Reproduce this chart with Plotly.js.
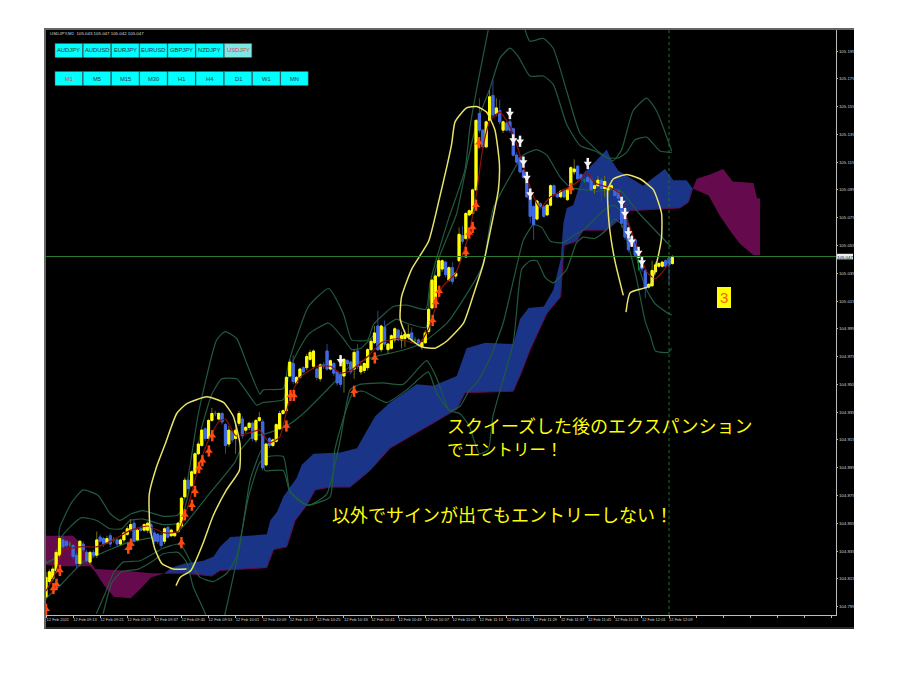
<!DOCTYPE html>
<html><head><meta charset="utf-8">
<script src="https://cdn.plot.ly/plotly-3.0.1.min.js"></script>
<style>html,body{margin:0;padding:0;background:#fff}</style></head>
<body><div id="chart" style="width:900px;height:674px"></div>
<script>
const barOpen=[104.802,104.813,104.815,104.821,104.832,104.843,104.842,104.840,104.839,104.832,
104.826,104.840,104.834,104.827,104.834,104.832,104.845,104.844,104.841,104.846,
104.843,104.843,104.840,104.843,104.847,104.850,104.855,104.843,104.851,104.850,
104.850,104.854,104.848,104.847,104.846,104.842,104.852,104.846,104.846,104.849,
104.853,104.874,104.886,104.882,104.891,104.905,104.911,104.923,104.916,104.929,
104.934,104.930,104.934,104.926,104.912,104.921,104.916,104.927,104.930,104.922,
104.924,104.927,104.915,104.929,104.928,104.897,104.916,104.911,104.914,104.923,
104.934,104.936,104.961,104.970,104.956,104.960,104.967,104.967,104.973,104.968,
104.966,104.959,104.969,104.979,104.966,104.970,104.964,104.962,104.961,104.972,
104.971,104.966,104.979,104.964,104.965,104.967,104.980,104.985,104.997,104.980,
104.996,104.980,104.981,104.987,104.994,104.987,104.988,104.989,104.992,104.987,
104.987,104.982,104.985,104.993,105.010,105.016,105.033,105.038,105.043,105.030,
105.039,105.033,105.044,105.062,105.060,105.077,105.078,105.095,105.150,105.138,
105.126,105.145,105.163,105.150,105.152,105.138,105.143,105.144,105.139,105.120,
105.118,105.109,105.104,105.090,105.083,105.074,105.085,105.083,105.077,105.084,
105.098,105.092,105.090,105.095,105.088,105.097,105.108,105.112,105.106,105.102,
105.104,105.103,105.096,105.098,105.102,105.096,105.095,105.096,105.095,105.094,
105.090,105.076,105.066,105.061,105.059,105.043,105.044,105.037,105.025,105.026,
105.036,105.040,105.040,105.044,105.046,105.042];
const barHigh=[104.820,104.822,104.824,104.836,104.846,104.845,104.843,104.842,104.840,104.834,
104.843,104.842,104.836,104.835,104.836,104.849,104.847,104.845,104.846,104.848,
104.845,104.844,104.844,104.849,104.853,104.858,104.857,104.851,104.853,104.855,
104.856,104.856,104.850,104.848,104.848,104.852,104.853,104.851,104.849,104.856,
104.874,104.888,104.888,104.893,104.906,104.913,104.923,104.924,104.930,104.938,
104.936,104.935,104.935,104.927,104.925,104.922,104.927,104.936,104.932,104.925,
104.928,104.928,104.930,104.935,104.930,104.913,104.917,104.916,104.927,104.936,
104.937,104.961,104.973,104.976,104.961,104.967,104.968,104.977,104.980,104.980,
104.967,104.970,104.971,104.984,104.973,104.971,104.965,104.964,104.974,104.973,
104.972,104.980,104.984,104.970,104.971,104.981,104.988,104.997,105.008,104.998,
105.001,104.985,104.991,104.996,104.995,104.993,104.994,104.998,104.996,104.989,
104.988,104.987,104.994,105.010,105.031,105.034,105.046,105.045,105.044,105.040,
105.043,105.036,105.068,105.069,105.079,105.081,105.096,105.146,105.161,105.139,
105.145,105.167,105.174,105.161,105.160,105.145,105.144,105.146,105.140,105.122,
105.119,105.110,105.105,105.091,105.084,105.088,105.086,105.084,105.085,105.099,
105.099,105.093,105.095,105.096,105.096,105.112,105.117,105.113,105.107,105.103,
105.105,105.105,105.099,105.105,105.104,105.105,105.098,105.099,105.096,105.095,
105.091,105.077,105.067,105.062,105.060,105.048,105.045,105.038,105.028,105.044,
105.043,105.043,105.044,105.045,105.047,105.048];
const barLow=[104.800,104.811,104.813,104.819,104.830,104.836,104.837,104.838,104.829,104.822,
104.824,104.834,104.826,104.825,104.830,104.830,104.841,104.838,104.840,104.838,
104.841,104.838,104.839,104.841,104.846,104.849,104.841,104.842,104.849,104.849,
104.848,104.846,104.840,104.840,104.837,104.840,104.844,104.845,104.845,104.848,
104.852,104.873,104.878,104.881,104.890,104.904,104.910,104.914,104.915,104.928,
104.932,104.929,104.926,104.905,104.910,104.913,104.905,104.925,104.916,104.920,
104.922,104.914,104.913,104.928,104.893,104.896,104.909,104.910,104.913,104.922,
104.933,104.935,104.960,104.955,104.955,104.959,104.963,104.965,104.972,104.966,
104.958,104.957,104.966,104.965,104.965,104.961,104.954,104.953,104.949,104.968,
104.962,104.959,104.966,104.962,104.963,104.965,104.979,104.984,104.979,104.978,
104.982,104.977,104.980,104.985,104.986,104.981,104.982,104.987,104.985,104.985,
104.982,104.980,104.984,104.991,105.009,105.013,105.032,105.036,105.032,105.029,
105.027,105.031,105.043,105.056,105.059,105.076,105.077,105.094,105.136,105.124,
105.125,105.144,105.147,105.148,105.142,105.136,105.137,105.136,105.119,105.114,
105.107,105.103,105.089,105.071,105.059,105.073,105.081,105.075,105.076,105.083,
105.090,105.089,105.089,105.089,105.087,105.096,105.106,105.102,105.102,105.100,
105.100,105.094,105.092,105.097,105.086,105.090,105.090,105.095,105.090,105.088,
105.068,105.059,105.050,105.054,105.047,105.037,105.036,105.017,105.024,105.025,
105.034,105.039,105.039,105.039,105.026,105.041];
const barClose=[104.816,104.820,104.822,104.834,104.844,104.838,104.839,104.840,104.831,104.826,
104.842,104.836,104.828,104.834,104.832,104.843,104.842,104.840,104.844,104.840,
104.843,104.840,104.843,104.848,104.851,104.854,104.842,104.850,104.850,104.854,
104.855,104.848,104.842,104.842,104.839,104.851,104.845,104.850,104.848,104.855,
104.873,104.886,104.880,104.892,104.905,104.912,104.922,104.916,104.929,104.934,
104.934,104.934,104.928,104.911,104.922,104.915,104.922,104.934,104.918,104.924,
104.927,104.916,104.929,104.931,104.895,104.912,104.911,104.915,104.926,104.934,
104.936,104.960,104.971,104.957,104.960,104.966,104.964,104.975,104.978,104.979,
104.960,104.969,104.968,104.966,104.972,104.963,104.956,104.955,104.973,104.970,
104.964,104.978,104.968,104.968,104.970,104.980,104.986,104.992,104.980,104.997,
104.984,104.984,104.990,104.995,104.987,104.990,104.991,104.991,104.987,104.987,
104.984,104.985,104.992,105.009,105.030,105.033,105.044,105.044,105.034,105.039,
105.029,105.035,105.063,105.058,105.078,105.080,105.095,105.145,105.138,105.126,
105.144,105.162,105.149,105.154,105.144,105.144,105.138,105.138,105.120,105.115,
105.108,105.104,105.090,105.076,105.070,105.087,105.083,105.076,105.084,105.098,
105.092,105.090,105.094,105.090,105.095,105.111,105.110,105.103,105.103,105.102,
105.101,105.095,105.098,105.102,105.096,105.101,105.097,105.098,105.091,105.089,
105.071,105.061,105.052,105.055,105.048,105.043,105.038,105.024,105.027,105.037,
105.041,105.042,105.043,105.040,105.041,105.047];

const xTickBars=[0,8,16,24,32,40,48,56,64,72,80,88,96,104,112,120,128,136,144,152,160,168,176,184];
const xTickLabels=["12 Feb 2021","12 Feb 09:13","12 Feb 09:21","12 Feb 09:29","12 Feb 09:37","12 Feb 09:45","12 Feb 09:53","12 Feb 10:01","12 Feb 10:09","12 Feb 10:17","12 Feb 10:25","12 Feb 10:33","12 Feb 10:41","12 Feb 10:49","12 Feb 10:57","12 Feb 11:05","12 Feb 11:13","12 Feb 11:21","12 Feb 11:29","12 Feb 11:37","12 Feb 11:45","12 Feb 11:53","12 Feb 12:01","12 Feb 12:09"];
const yTicks=[104.795,104.815,104.835,104.855,104.875,104.895,104.915,104.935,104.955,104.975,104.995,105.015,105.035,105.055,105.075,105.095,105.115,105.135,105.155,105.175,105.195];
const symbolButtons=["AUDJPY","AUDUSD","EURJPY","EURUSD","GBPJPY","NZDJPY","USDJPY"];
const periodButtons=["M1","M5","M15","M30","H1","H4","D1","W1","MN"];

const blueTopBar=[35,37,41,46.5,49.5,51.4,54.4,65.2,66.2,68.2,70.1,74.1,75.5,79,86.9,91.8,97.2,101.6,109.5,114.4,121.3,124.2,129.7,138,140,142.5,147,149.8,152,152.8,153.8,155.7,158.7,162.1,165.6,167.1,169,172.5,176.4,178.4,182.8,185.3,189.2,191];
const blueTopPrice=[104.819,104.823,104.826,104.828,104.831,104.838,104.845,104.847,104.857,104.863,104.874,104.888,104.897,104.905,104.906,104.909,104.932,104.942,104.955,104.954,104.961,104.981,104.985,104.984,105.002,105.010,105.011,105.023,105.045,105.071,105.082,105.084,105.107,105.115,105.124,105.116,105.109,105.104,105.098,105.102,105.110,105.102,105.102,105.096];
const blueBottomBar=[35,41,49,51.4,65.2,67.2,71.1,73.6,77,79.5,83.9,89.8,95.7,101.6,121.3,123.8,138,140.5,143,147.9,152,153,156.7,158.7,165.6,172.5,187.2,189.7,191];
const blueBottomPrice=[104.819,104.819,104.817,104.821,104.823,104.836,104.838,104.857,104.868,104.879,104.881,104.881,104.893,104.909,104.937,104.949,104.950,104.964,104.980,105.006,105.018,105.055,105.058,105.066,105.066,105.080,105.082,105.086,105.096];
const maroonLeftBar=[0,8,10.5,12,13,14.5,23,31,35,31,28,25,20,17.5,14.5,13,5,0];
const maroonLeftPrice=[104.846,104.846,104.840,104.834,104.828,104.822,104.821,104.819,104.819,104.816,104.808,104.801,104.802,104.809,104.820,104.824,104.824,104.825];
const maroonRightBar=[191,192.2,196.1,200,202.8,208.9,210,210.9,210.9,209,205,202.5,199.1,195.7,191];
const maroonRightPrice=[105.096,105.103,105.106,105.110,105.101,105.100,105.089,105.089,105.048,105.048,105.056,105.064,105.076,105.091,105.096];

const upperOuterBar=[0,3,4.1,7.6,11,15.4,18.9,21.8,25.3,28.7,34.6,39,40.5,42.5,45,50.4,52.9,56.3,59.3,63.2,64.2,70.1,71.6,77.5,83.5,87.8,90.3,95,96.7,102.6,106.5,112.2,113.4,115.5,119,123.7,125.2,127.7,130.6,133,138,141.5,142.9,146.9,149.8,153.8,157.7,163.5,167.5,170,173.4,177.4,180.3,184.8];
const upperOuterPrice=[104.827,104.830,104.852,104.870,104.879,104.875,104.862,104.857,104.862,104.864,104.860,104.861,104.869,104.896,104.934,104.987,104.993,104.988,104.970,104.948,104.951,104.952,104.970,105.011,105.024,105.006,104.987,104.987,104.998,105.011,105.012,105.009,105.028,105.047,105.075,105.109,105.140,105.174,105.210,105.235,105.240,105.210,105.202,105.204,105.197,105.166,105.136,105.122,105.116,105.124,105.152,105.161,105.152,105.123];
const upperInnerBar=[0,3,4.6,7,10.5,15,18.9,22.3,24.8,28.7,34.6,39,40.5,42.5,46,49,51.9,56.3,58.3,62.3,64.2,70.1,71.6,73.2,77.5,83.5,87.8,90.3,93,96.7,103.5,106.5,112.2,113.4,115.9,118,121.3,124,127.2,131.1,134.1,137,139.5,142.9,146.9,149.8,153.8,157.7,162.1,166,169,171.5,173.9,177.4,181.3,184.8];
const upperInnerPrice=[104.826,104.831,104.845,104.852,104.859,104.857,104.851,104.851,104.857,104.858,104.854,104.855,104.862,104.881,104.924,104.948,104.959,104.959,104.953,104.940,104.942,104.944,104.960,104.973,104.991,104.999,104.988,104.980,104.981,104.990,105.002,104.999,104.996,105.021,105.045,105.058,105.078,105.110,105.143,105.168,105.190,105.197,105.191,105.177,105.177,105.171,105.142,105.127,105.123,105.118,105.118,105.122,105.131,105.133,105.123,105.122];
const lowerNearBar=[0,4.1,8,11,15,24,27.8,34,39,47.5,55.8,57.3,61.2,64.2,71,76,85.8,89.8,97.1,104.5,109.5,112.4,118.4,124.5,128.5,129.7,132,136.9,140.9,144.9,147.9,151.9,154.9,162.5,169.3,175.2,184.6];
const lowerNearPrice=[104.801,104.810,104.820,104.827,104.832,104.841,104.843,104.846,104.849,104.874,104.899,104.907,104.918,104.919,104.925,104.934,104.958,104.968,104.975,104.979,104.983,104.987,104.999,105.021,105.038,105.048,105.081,105.104,105.120,105.124,105.120,105.104,105.097,105.094,105.095,105.078,105.054];
const lowerMidBar=[14.9,17.4,19.9,22.8,27.8,34.6,39,40.5,45.5,49.4,53.4,56.3,59.8,63.2,65.7,70.1,72.1,77.5,82.9,86.9,89.8,92.7,99.6,105.5,112.4,115.3,119.2,122.2,125.1,127.2,131,135,139,141,144,146.4,149,152.8,155.7,158.7,164.6,167.5,170,172.5,175.4,177.4,179.9,183.8,184.8];
const lowerMidPrice=[104.790,104.804,104.819,104.827,104.828,104.837,104.840,104.837,104.816,104.813,104.819,104.831,104.874,104.899,104.903,104.903,104.878,104.868,104.876,104.915,104.951,104.955,104.956,104.955,104.972,104.960,104.936,104.939,104.951,104.956,104.973,104.999,105.040,105.059,105.070,105.068,105.058,105.057,105.062,105.066,105.080,105.084,105.079,105.066,105.037,105.023,105.013,105.006,105.005];
const lowerFarBar=[16.9,19.4,22.3,27.3,31.7,34.6,39,41.5,43.5,47,48.5,51,52.9,57.3,60.3,63.7,64.7,70.1,72.1,77,83.9,85.3,90.7,93.7,100.6,106.5,112.9,115.3,119.2,122.2,125,128,130.6,132,138,140.5,143,145,147.4,149.8,153.8,156.7,158.7,162,165,168,170,172,174.5,177,178.5,180,183.8,184.8];
const lowerFarPrice=[104.790,104.812,104.820,104.822,104.828,104.833,104.834,104.827,104.809,104.790,104.775,104.770,104.790,104.840,104.886,104.908,104.893,104.893,104.877,104.868,104.874,104.908,104.949,104.950,104.942,104.951,104.964,104.949,104.936,104.934,104.925,104.905,104.908,104.932,104.985,105.038,105.044,105.044,105.032,105.028,105.038,105.057,105.061,105.060,105.065,105.074,105.070,105.055,105.030,105.000,104.990,104.979,104.978,104.981];
const middleBar=[0,3,5,10,15,20,25,30,35,39,42,45,48,51,53,56,60,63,66,69,72,75,80,84,87,90,95,99,104,110,113,117,121,124.5,127,129,131,134,136,138,141,144,146,149,153,157.7,159.7,162.1,167.1,169.6,172,175.4,177.4,179.9,181.8,183.8];
const middlePrice=[104.806,104.820,104.835,104.838,104.838,104.843,104.850,104.853,104.848,104.849,104.868,104.895,104.915,104.928,104.930,104.918,104.920,104.922,104.913,104.917,104.945,104.960,104.968,104.968,104.963,104.965,104.975,104.985,104.988,104.984,104.995,105.025,105.035,105.060,105.090,105.125,105.144,105.151,105.145,105.135,105.112,105.090,105.082,105.090,105.095,105.102,105.107,105.100,105.096,105.092,105.071,105.049,105.036,105.031,105.035,105.042];

const upArrowBar=[0,2.2,3.1,4.1,24.3,25.1,40,41,43.1,44,45.2,46.2,48.1,49.1,71,72.2,73.2,91,97.1,114.2,115.1,116.1,124,125,126,127,127.9,155];
const upArrowPrice=[104.793,104.808,104.811,104.821,104.837,104.840,104.841,104.861,104.868,104.878,104.895,104.900,104.907,104.918,104.925,104.947,104.947,104.950,104.974,105.001,105.014,105.022,105.050,105.064,105.068,105.084,105.129,105.096];
const downArrowBar=[87,137,138,140,141,142,143,160,170,171,172,173,175,176];
const downArrowPrice=[104.972,105.150,105.131,105.130,105.115,105.104,105.092,105.114,105.086,105.078,105.064,105.058,105.050,105.043];

const circleOneBar=[41.5,37.6,34.2,32.2,30.7,30.5,32.7,35.2,38.6,41.5,47.5,52.4,55.3,57.3,57.1,53.3,49.3,46.3,42.8,39.6,38.4];
const circleOnePrice=[104.822,104.822,104.826,104.836,104.852,104.876,104.896,104.912,104.934,104.941,104.946,104.942,104.932,104.912,104.893,104.879,104.860,104.840,104.821,104.816,104.810];
const circleTwoBar=[114.9,111,106.5,104.6,105,108,113,116.3,119.8,120.8,124.2,127.2,130.1,132.6,133.9,133.6,131.1,129.2,126.7,123.3,118.3,114.9];
const circleTwoPrice=[104.981,104.982,104.990,105.002,105.018,105.038,105.058,105.090,105.128,105.144,105.154,105.155,105.151,105.138,105.114,105.095,105.064,105.042,105.023,104.999,104.986,104.981];
const circleThreeBar=[170.5,168,166.3,165.9,167.6,171.5,175.4,179.4,181.8,181.8,180.3,178.4,172.5,171.3];
const circleThreePrice=[105.019,105.044,105.071,105.095,105.103,105.106,105.103,105.095,105.078,105.061,105.042,105.026,105.021,105.007];

const lastPrice=105.047;
const lastBar=184;

// ---- layout helpers
const PL=46,PR=836,PT=30,PB=615;
const fx=px=>(px-PL)/(PR-PL), fy=py=>(PB-py)/(PB-PT);
const barIdx=barOpen.map((_,i)=>i);
const pick=(arr,idx)=>idx.map(i=>arr[i]);
const bodyIdx=barIdx.filter(i=>barOpen[i]!==barClose[i]);
const dojiIdx=barIdx.filter(i=>barOpen[i]===barClose[i]);
const over2={xaxis:'x2',yaxis:'y2'}, over3={xaxis:'x3',yaxis:'y3'};

function poly(x,y,fill,line){return {type:'scatter',mode:'lines',x,y,fill:'toself',fillcolor:fill,line:{color:line||fill,width:line?1:0},hoverinfo:'skip'};}
function curve(x,y,color,width,extra){return Object.assign({type:'scatter',mode:'lines',x,y,line:{color,width,shape:'spline',smoothing:0.5},hoverinfo:'skip'},extra||{});}
function candle(idx,hi,lo,upFill,upLine,dnFill,dnLine,w){
  return Object.assign({type:'candlestick',x:pick(barIdx,idx),open:pick(barOpen,idx),high:hi,low:lo,close:pick(barClose,idx),
    increasing:{line:{color:upLine,width:w},fillcolor:upFill},decreasing:{line:{color:dnLine,width:w},fillcolor:dnFill},whiskerwidth:0,hoverinfo:'skip'},over2);
}
function arrows(x,y,color,head,angleFlip){
  return [
    Object.assign({type:'scatter',mode:'markers',x,y,marker:{symbol:'line-ns',size:8,line:{color,width:2.5}},hoverinfo:'skip'},over3),
    Object.assign({type:'scatter',mode:'markers',x,y,marker:{symbol:head,size:7,color,line:{width:0}},hoverinfo:'skip'},over3)
  ];
}
const BAND='#215a3f';
const traces=[
  poly(maroonLeftBar,maroonLeftPrice,'#660a4e'),
  poly(maroonRightBar,maroonRightPrice,'#660a4e'),
  poly(blueTopBar.concat(blueBottomBar.slice().reverse()),blueTopPrice.concat(blueBottomPrice.slice().reverse()),'#1a3487'),
  {type:'scatter',mode:'lines',x:blueBottomBar,y:blueBottomPrice,line:{color:'#660a4e',width:1},hoverinfo:'skip'},
  curve(upperOuterBar,upperOuterPrice,BAND,1.2),
  curve(upperInnerBar,upperInnerPrice,BAND,1.2),
  curve(lowerNearBar,lowerNearPrice,BAND,1.2),
  curve(lowerMidBar,lowerMidPrice,BAND,1.2),
  curve(lowerFarBar,lowerFarPrice,BAND,1.2),
  // wicks (dim) first, then bright bodies
  candle(bodyIdx,pick(barHigh,bodyIdx),pick(barLow,bodyIdx),'#55550a','#6f6f14','#1e3372','#2a4590',1),
  candle(bodyIdx,bodyIdx.map(i=>Math.max(barOpen[i],barClose[i])),bodyIdx.map(i=>Math.min(barOpen[i],barClose[i])),'#ffff00','#ffff00','#4169e1','#4169e1',1),
  candle(dojiIdx,pick(barHigh,dojiIdx),pick(barLow,dojiIdx),'#0a8a2a','#0a8a2a','#0a8a2a','#0a8a2a',1),
  Object.assign(curve(middleBar,middlePrice,'#8f0f0f',1.2),over3),
  ...arrows(upArrowBar,upArrowPrice,'#ff4a12','triangle-up'),
  ...arrows(downArrowBar,downArrowPrice,'#f4f4f4','triangle-down'),
  Object.assign(curve(circleOneBar,circleOnePrice,'#e8e36a',1.5),over3),
  Object.assign(curve(circleTwoBar,circleTwoPrice,'#e8e36a',1.5),over3),
  Object.assign(curve(circleThreeBar,circleThreePrice,'#e8e36a',1.5),over3)
];

const shapes=[
  {type:'rect',xref:'paper',yref:'paper',x0:fx(44),x1:fx(854),y0:fy(629),y1:fy(28),fillcolor:'#000',line:{width:0},layer:'below'},
  {type:'line',xref:'paper',yref:'paper',x0:fx(44),x1:fx(854),y0:fy(29),y1:fy(29),line:{color:'#666',width:2}},
  {type:'line',xref:'paper',yref:'paper',x0:fx(45),x1:fx(45),y0:fy(28),y1:fy(629),line:{color:'#666',width:2}},
  {type:'line',xref:'paper',yref:'paper',x0:fx(44),x1:fx(854),y0:fy(628),y1:fy(628),line:{color:'#555',width:1}},
  {type:'line',xref:'paper',yref:'y',x0:0,x1:1,y0:lastPrice,y1:lastPrice,line:{color:'#2f7d2f',width:1},layer:'above'},
  {type:'line',xref:'x',yref:'paper',x0:lastBar,x1:lastBar,y0:0,y1:1,line:{color:'#1f6f30',width:1,dash:'dot'},layer:'above'},
  {type:'rect',xref:'paper',yref:'y',x0:fx(837),x1:fx(853),y0:lastPrice-0.002,y1:lastPrice+0.002,fillcolor:'#eee',line:{width:0},layer:'above'},
  {type:'rect',xref:'paper',yref:'paper',x0:fx(717),x1:fx(731),y0:fy(308),y1:fy(287),fillcolor:'#ffff00',line:{width:0},layer:'above'}
];
const FONT='Liberation Sans';
const annos=[
  {xref:'paper',yref:'paper',x:fx(48),y:fy(34),xanchor:'left',yanchor:'middle',text:'USDJPY,M1  105.043 105.047 105.042 105.047',showarrow:false,font:{family:FONT,size:4.4,color:'#ddd'}},
  {xref:'paper',yref:'paper',x:fx(845),y:fy(257.5),xanchor:'center',yanchor:'middle',text:lastPrice.toFixed(3),showarrow:false,font:{family:FONT,size:4.4,color:'#000'}},
  {xref:'paper',yref:'paper',x:fx(724),y:fy(297.5),xanchor:'center',yanchor:'middle',text:'3',showarrow:false,font:{family:FONT,size:15,color:'#ff5a10'}},
  {xref:'paper',yref:'paper',x:fx(445),y:fy(436),xanchor:'left',yanchor:'middle',align:'left',text:'スクイーズした後のエクスパンション<br><span style="font-size:16.5px">でエントリー！</span>',showarrow:false,font:{family:'Noto Sans CJK JP',size:18,color:'#ffff00'}},
  {xref:'paper',yref:'paper',x:fx(330),y:fy(514),xanchor:'left',yanchor:'middle',text:'以外でサインが出てもエントリーしない！',showarrow:false,font:{family:'Noto Sans CJK JP',size:18,color:'#ffff00'}}
];
function addButtons(labels,top,active){
  labels.forEach((lab,k)=>{
    const x0=55+k*28.2,x1=x0+27.6;
    shapes.push({type:'rect',xref:'paper',yref:'paper',x0:fx(x0),x1:fx(x1),y0:fy(top+14),y1:fy(top),fillcolor:lab===active&&labels===symbolButtons?'#7fe6e6':'#00ffff',line:{color:'#555',width:0.5},layer:'above'});
    annos.push({xref:'paper',yref:'paper',x:fx((x0+x1)/2),y:fy(top+7),xanchor:'center',yanchor:'middle',text:lab,showarrow:false,font:{family:FONT,size:5.8,color:lab===active?'#e04040':'#333'}});
  });
}
addButtons(symbolButtons,43.5,'USDJPY');
addButtons(periodButtons,71.5,'M1');

const xRange=[0,(PR-PL)/3.386];
const yRange=[105.195-(PB-51)*0.00072,105.195-(PT-51)*0.00072];
const hiddenX={range:xRange,overlaying:'x',visible:false,rangeslider:{visible:false},fixedrange:true};
const hiddenY={range:yRange,overlaying:'y',visible:false,fixedrange:true};
const layout={
  width:900,height:674,autosize:false,
  margin:{l:PL,r:900-PR,t:PT,b:674-PB,pad:0},
  paper_bgcolor:'#ffffff',plot_bgcolor:'#000000',
  showlegend:false,hovermode:false,boxgap:0.1,boxmode:'overlay',
  xaxis:{range:xRange,showgrid:false,zeroline:false,showline:true,linecolor:'#bdbdbd',linewidth:1,
    tickmode:'array',tickvals:xTickBars.map(b=>b+3.5),ticktext:xTickLabels,ticks:'',tickangle:0,
    tickfont:{family:FONT,size:4,color:'#d0d0d0'},rangeslider:{visible:false},fixedrange:true,
    minor:{ticks:'outside',tick0:0,dtick:8,ticklen:2,tickcolor:'#bbb',showgrid:false}},
  yaxis:{range:yRange,side:'right',showgrid:false,zeroline:false,showline:true,linecolor:'#bdbdbd',linewidth:1,
    tickmode:'array',tickvals:yTicks,tickformat:'.3f',ticks:'outside',ticklen:1,tickcolor:'#bbb',
    tickfont:{family:FONT,size:4.4,color:'#d0d0d0'},fixedrange:true},
  xaxis2:hiddenX,yaxis2:hiddenY,
  xaxis3:Object.assign({},hiddenX),yaxis3:Object.assign({},hiddenY),
  shapes,annotations:annos
};
Plotly.newPlot('chart',traces,layout,{displayModeBar:false,staticPlot:true});
</script></body></html>
